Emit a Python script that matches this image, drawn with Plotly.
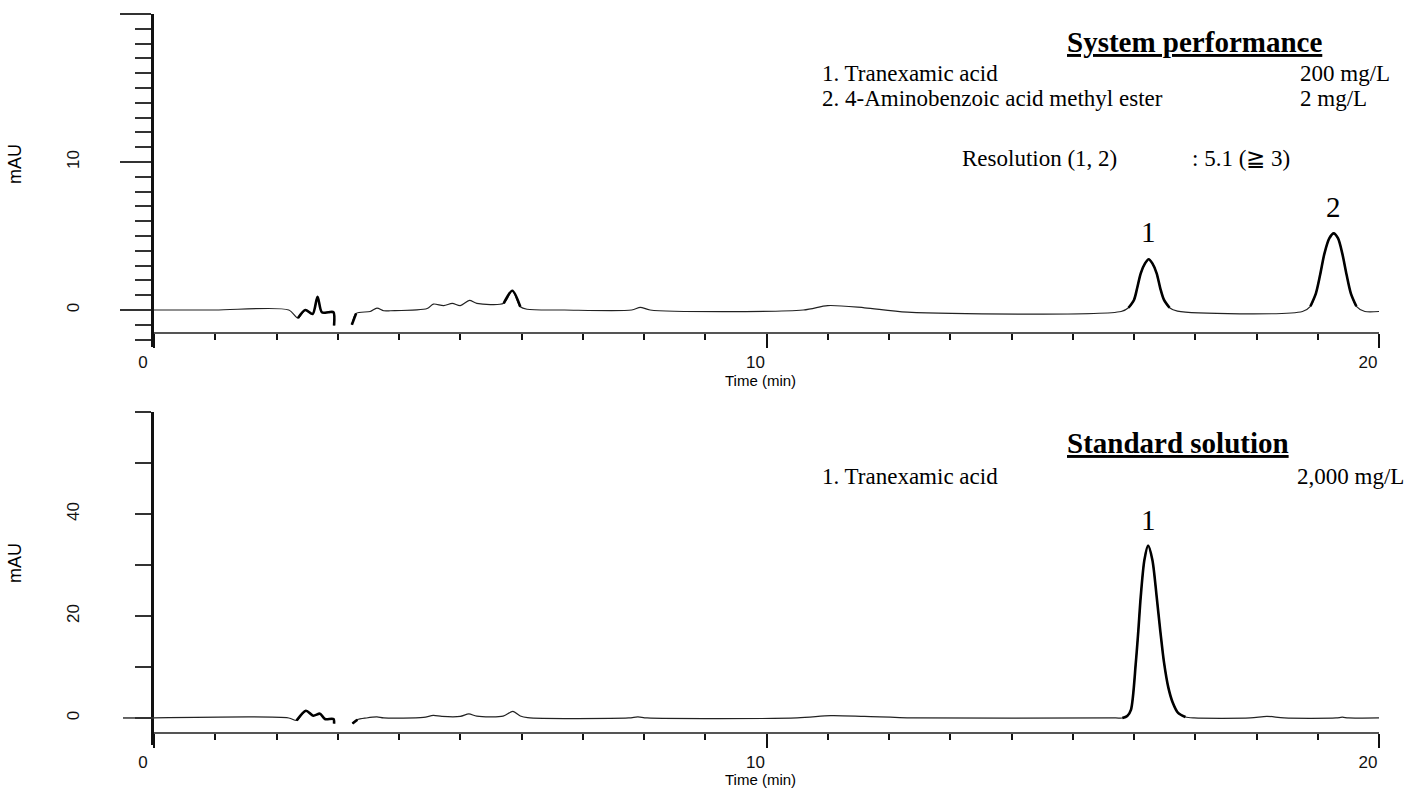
import plotly.graph_objects as go

# ---------------- data ----------------
# System performance chromatogram: time (min) and absorbance (mAU)
t_sys = [0.0, 1.0, 2.2, 2.35, 2.47, 2.59, 2.67, 2.74, 2.85, 2.93, 2.94, None,
         3.23, 3.30, 3.53, 3.64, 3.75, 3.86, 4.46, 4.56, 4.73, 4.87, 5.00, 5.15,
         5.27, 5.71, 5.85, 5.98, 6.09, 6.70, 7.80, 7.94, 8.10, 10.60, 11.00, 11.60,
         12.30, 15.79, 15.91, 16.00, 16.05, 16.11, 16.18, 16.24, 16.30, 16.37, 16.43,
         16.49, 16.58, 16.71, 18.75, 18.88, 18.97, 19.04, 19.11, 19.19, 19.26, 19.33,
         19.40, 19.47, 19.54, 19.63, 19.77, 20.0]
a_sys = [0.0, 0.0, 0.0, -0.55, 0.0, -0.27, 0.9, -0.15, -0.15, -0.15, -1.05, None,
         -1.0, -0.23, -0.1, 0.13, -0.05, -0.05, 0.1, 0.4, 0.3, 0.45, 0.3, 0.65,
         0.45, 0.45, 1.3, 0.22, 0.05, 0.0, 0.0, 0.18, 0.0, 0.0, 0.3, 0.15,
         -0.15, -0.1, 0.15, 0.68, 1.45, 2.48, 3.15, 3.43, 3.15, 2.48, 1.45,
         0.68, 0.15, -0.08, -0.1, 0.25, 1.13, 2.4, 3.83, 4.85, 5.18, 4.85,
         3.83, 2.4, 1.13, 0.25, -0.1, -0.1]

# Standard solution chromatogram
t_std = [0.0, 2.2, 2.33, 2.48, 2.60, 2.71, 2.79, 2.93, 2.94, None, 3.24, 3.32,
         3.47, 3.64, 3.75, 4.40, 4.56, 4.70, 5.00, 5.14, 5.27, 5.70, 5.86, 5.98,
         6.10, 7.75, 7.90, 8.05, 10.50, 11.05, 11.60, 12.40, 15.70, 15.81, 15.89,
         15.95, 16.03, 16.07, 16.11, 16.17, 16.23, 16.30, 16.37, 16.43, 16.49,
         16.56, 16.63, 16.72, 16.84, 16.98, 17.90, 18.17, 18.45, 19.30, 19.40,
         19.50, 20.0]
a_std = [0.0, 0.0, -0.47, 1.43, 0.45, 0.84, -0.2, -0.2, -1.1, None, -1.1, -0.33,
         0.0, 0.2, 0.0, 0.1, 0.5, 0.3, 0.3, 0.8, 0.35, 0.35, 1.3, 0.4,
         0.05, 0.0, 0.2, 0.0, 0.0, 0.45, 0.3, 0.0, 0.0, 0.0, 0.4,
         1.6, 10.9, 17.0, 23.8, 31.0, 33.8, 31.0, 23.8, 17.0, 10.9,
         6.0, 3.1, 1.0, 0.2, 0.0, 0.0, 0.33, 0.0, 0.0, 0.15,
         0.0, 0.0]

# peak labels
sys_peak_labels = ["1", "2"]
sys_peak_times = [16.24, 19.26]
sys_peak_label_y = [5.27, 6.95]
std_peak_labels = ["1"]
std_peak_times = [16.23]
std_peak_label_y = [38.8]

# tick labels
x_tickvals = [0, 10, 20]
x_ticktext = ["0", "10", "20"]
y1_tickvals = [0, 10, 20]
y1_ticktext = ["0", "10", ""]
y2_tickvals = [0, 10, 20, 30, 40, 50, 60]
y2_ticktext = ["0", "", "20", "", "40", "", ""]

# texts
sys_title = "System performance"
sys_items = ["1. Tranexamic acid", "2. 4-Aminobenzoic acid methyl ester"]
sys_conc = ["200 mg/L", "2 mg/L"]
sys_res_label = "Resolution (1, 2)"
sys_res_value = ": 5.1 (\u2267 3)"
std_title = "Standard solution"
std_items = ["1. Tranexamic acid"]
std_conc = ["2,000 mg/L"]

# time windows where the recorder trace is drawn heavier (style only)
sys_bold_windows = [(2.30, 2.94), (3.23, 3.32), (5.71, 6.05), (15.80, 16.70), (18.76, 19.76)]
std_bold_windows = [(2.30, 2.94), (3.24, 3.35), (15.81, 16.90)]

# ---------------- layout geometry ----------------
W, H = 1408, 791
ML, MR, MT, MB = 154, 29, 14, 46
PW, PH = W - ML - MR, H - MT - MB


def px(x):
    return (x - ML) / PW


def py(y):
    return (H - MB - y) / PH


SERIF = "Liberation Serif, Times New Roman, serif"
SANS = "Liberation Sans, Arial, sans-serif"


def masked(ts, ys, windows):
    out = []
    for t, y in zip(ts, ys):
        if t is None or y is None:
            out.append(None)
        elif any(a <= t <= b for a, b in windows):
            out.append(y)
        else:
            out.append(None)
    return out


fig = go.Figure()
thin = dict(color="#222222", width=1.2, shape="spline", smoothing=0.8)
bold = dict(color="#000000", width=2.6, shape="spline", smoothing=0.8)
for ts, ys, wins, xa, ya in [(t_sys, a_sys, sys_bold_windows, "x", "y"),
                             (t_std, a_std, std_bold_windows, "x2", "y2")]:
    fig.add_trace(go.Scatter(x=ts, y=ys, mode="lines", line=thin,
                             connectgaps=False, xaxis=xa, yaxis=ya,
                             showlegend=False, hoverinfo="skip"))
    fig.add_trace(go.Scatter(x=ts, y=masked(ts, ys, wins), mode="lines", line=bold,
                             connectgaps=False, xaxis=xa, yaxis=ya,
                             showlegend=False, hoverinfo="skip"))


def xaxis(pos):
    return dict(range=[0, 20], domain=[0, 1], anchor="free", position=pos,
                showline=True, linecolor="#555555", linewidth=1.5,
                ticks="outside", tickvals=x_tickvals, ticktext=x_ticktext,
                ticklen=14, tickwidth=2.2, tickcolor="#111111",
                minor=dict(dtick=1, tick0=0, ticks="outside", ticklen=6,
                           tickwidth=2.2, tickcolor="#111111"),
                showgrid=False, zeroline=False, ticklabelshift=-11,
                tickfont=dict(family=SANS, size=17, color="#111111"))


def yaxis(dom, rng, tv, tt, major_len, minor_dt, minor_len, standoff, anchor):
    return dict(domain=dom, range=rng, anchor=anchor,
                showline=True, linecolor="#111111", linewidth=2.6,
                ticks="outside", tickvals=tv, ticktext=tt,
                ticklen=major_len, tickwidth=1.5, tickcolor="#333333",
                minor=dict(dtick=minor_dt, tick0=0, ticks="outside",
                           ticklen=minor_len, tickwidth=1.5, tickcolor="#333333"),
                tickangle=-90, ticklabelstandoff=standoff,
                showgrid=False, zeroline=False,
                tickfont=dict(family=SANS, size=17, color="#111111"))


top_dom = [py(347), 1.0]
bot_dom = [0.0, py(412)]

fig.update_layout(
    width=W, height=H,
    margin=dict(l=ML, r=MR, t=MT, b=MB),
    paper_bgcolor="white", plot_bgcolor="white",
    xaxis=xaxis(py(333)),
    xaxis2=xaxis(py(733)),
    yaxis=yaxis(top_dom, [-2.5, 20], y1_tickvals, y1_ticktext, 31, 1, 16, 34, "x"),
    yaxis2=yaxis(bot_dom, [-5.3, 60], y2_tickvals, y2_ticktext, 16, 10, 16, 49, "x2"),
)

# long zero tick on the lower axis
fig.add_shape(type="line", xref="paper", yref="y2", x0=px(123), x1=px(154),
              y0=0, y1=0, line=dict(color="#333333", width=1.5))

ann = []


def txt(x, y, s, size, family=SERIF, xanchor="left", angle=0):
    ann.append(dict(x=px(x), y=py(y), xref="paper", yref="paper", text=s,
                    showarrow=False, xanchor=xanchor, yanchor="middle",
                    textangle=angle,
                    font=dict(family=family, size=size, color="black")))


# axis titles
txt(15, 164, "mAU", 18, SANS, "center", -90)
txt(15, 563, "mAU", 18, SANS, "center", -90)
txt(760, 381, "Time (min)", 15, SANS, "center")
txt(760, 779, "Time (min)", 15, SANS, "center")

# top panel texts
txt(1065, 42, "<b><u>" + sys_title + "</u></b>", 29)
for i, (name, conc) in enumerate(zip(sys_items, sys_conc)):
    txt(820, 73 + 25 * i, name, 23)
    txt(1298, 73 + 25 * i, conc, 23)
txt(960, 158, sys_res_label, 23)
txt(1190, 158, sys_res_value, 23)

# bottom panel texts
txt(1065, 443, "<b><u>" + std_title + "</u></b>", 29)
for i, (name, conc) in enumerate(zip(std_items, std_conc)):
    txt(820, 476 + 25 * i, name, 23)
    txt(1406, 476 + 25 * i, conc, 23, xanchor="right")

# peak labels in data coordinates
for lab, tx, ty in zip(sys_peak_labels, sys_peak_times, sys_peak_label_y):
    ann.append(dict(x=tx, y=ty, xref="x", yref="y", text=lab, showarrow=False,
                    font=dict(family=SERIF, size=29, color="black")))
for lab, tx, ty in zip(std_peak_labels, std_peak_times, std_peak_label_y):
    ann.append(dict(x=tx, y=ty, xref="x2", yref="y2", text=lab, showarrow=False,
                    font=dict(family=SERIF, size=29, color="black")))

fig.update_layout(annotations=ann)
fig.write_html("out.html", config={"displayModeBar": False},
               post_script="document.body.style.margin='0px';")
